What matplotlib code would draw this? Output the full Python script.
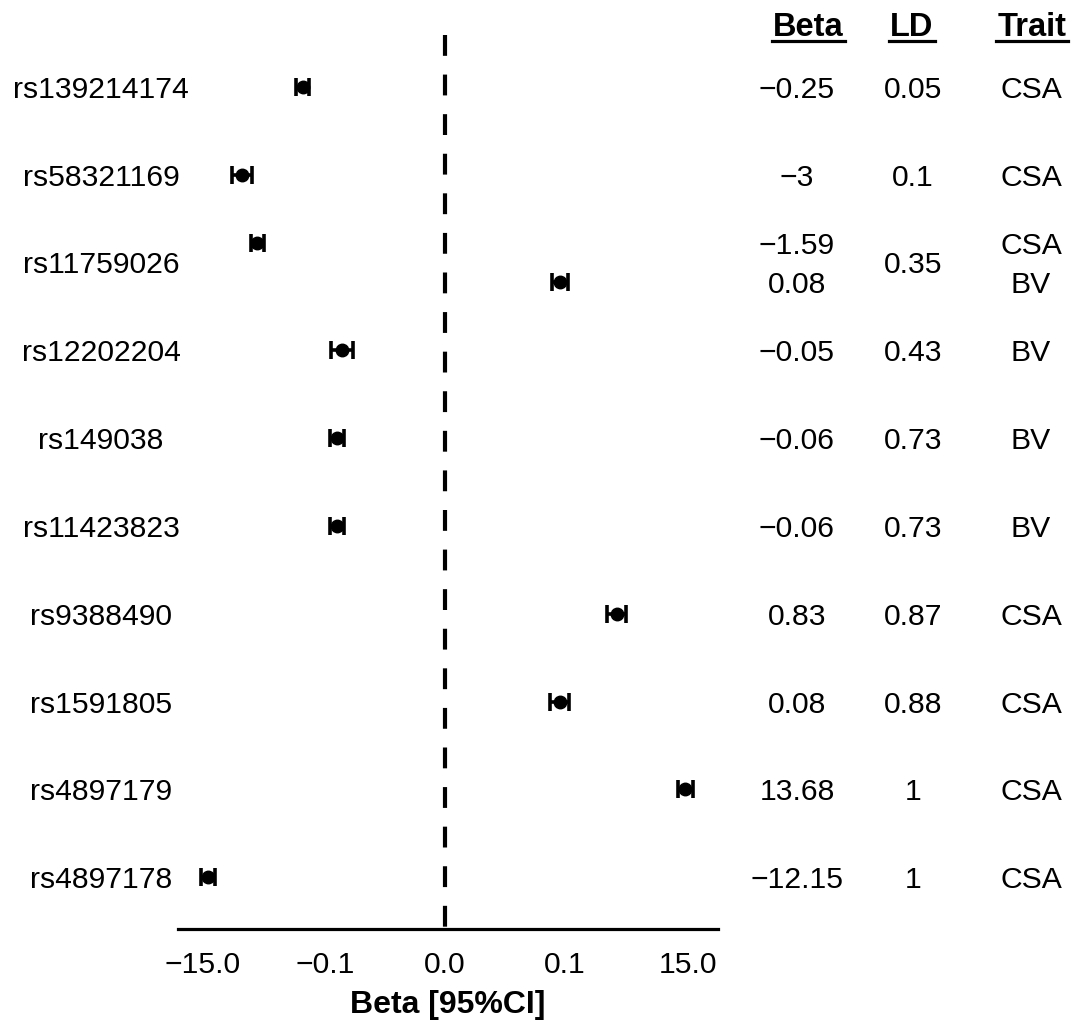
import numpy as np
import matplotlib
matplotlib.use("Agg")
import matplotlib.pyplot as plt
from matplotlib.transforms import blended_transform_factory
from matplotlib.lines import Line2D

plt.rcParams['font.family'] = ['Liberation Sans', 'DejaVu Sans']

# ---- data ----
snps = ["rs139214174", "rs58321169", "rs11759026", "rs12202204", "rs149038",
        "rs11423823", "rs9388490", "rs1591805", "rs4897179", "rs4897178"]
ld = ["0.05", "0.1", "0.35", "0.43", "0.73", "0.73", "0.87", "0.88", "1", "1"]
entry_snp = [0, 1, 2, 2, 3, 4, 5, 6, 7, 8, 9]
beta = [-0.25, -3, -1.59, 0.08, -0.05, -0.06, -0.06, 0.83, 0.08, 13.68, -12.15]
ci_lo = [-0.33, -4.4, -2.07, 0.058, -0.078, -0.08, -0.08, 0.56, 0.053, 10.0, -16.2]
ci_hi = [-0.19, -2.0, -1.22, 0.111, -0.032, -0.045, -0.045, 1.22, 0.12, 18.6, -9.1]
trait = ["CSA", "CSA", "CSA", "BV", "BV", "BV", "BV", "CSA", "CSA", "CSA", "CSA"]
xticks = [-15.0, -0.1, 0.0, 0.1, 15.0]
xticklabels = ["\u221215.0", "\u22120.1", "0.0", "0.1", "15.0"]

# ---- scale ----
C = 0.00075
def fwd(x):
    x = np.asarray(x, dtype=float)
    return np.sign(x) * np.log10(1 + np.abs(x) / C)
def inv(y):
    y = np.asarray(y, dtype=float)
    return np.sign(y) * C * (10 ** np.abs(y) - 1)

W, H = 1075, 1025
fig = plt.figure(figsize=(W / 100, H / 100), dpi=100)
ax_left, ax_right, ax_top, ax_bot = 178, 718, 35, 929
ax = fig.add_axes([ax_left / W, 1 - ax_bot / H, (ax_right - ax_left) / W, (ax_bot - ax_top) / H])
ax.set_xscale('function', functions=(fwd, inv))

# y positions
counts = {}
for s in entry_snp:
    counts[s] = counts.get(s, 0) + 1
seen = {}
ypos = []
for s in entry_snp:
    k = seen.get(s, 0)
    seen[s] = k + 1
    n = counts[s]
    off = 0.0 if n == 1 else (-0.22 + 0.44 * k / (n - 1))
    ypos.append(s + off)

beta_a = np.array(beta)
xerr = [beta_a - np.array(ci_lo), np.array(ci_hi) - beta_a]
ax.errorbar(beta_a, ypos, xerr=xerr, fmt='o', color='black', ms=9,
            elinewidth=2.6, capsize=6.5, capthick=2.6, zorder=3)

ylim = (len(snps) - 1 + 0.59, -0.59)
ax.set_ylim(*ylim)
ax.set_xlim(inv(-4.734), inv(4.84))
ax.plot([0, 0], [ylim[1], ylim[0]], color='black', lw=3, dashes=(5, 4.5),
        solid_capstyle='butt', dash_capstyle='butt', clip_on=False)

for sp in ['top', 'right', 'left']:
    ax.spines[sp].set_visible(False)
ax.spines['bottom'].set_linewidth(2.3)
ax.set_yticks([])
ax.set_xticks(xticks)
ax.set_xticklabels(xticklabels, fontsize=21.7)
ax.tick_params(axis='x', length=0, pad=15.5)
ax.set_xlabel("Beta [95%CI]", fontsize=23, fontweight='bold', labelpad=8)

# ---- side labels and table ----
tr = blended_transform_factory(fig.transFigure, ax.transData)
kw = dict(transform=tr, ha='center', va='center_baseline', fontsize=21.7)
for i, s in enumerate(snps):
    fig.text(101 / W, i, s, **kw)
    fig.text(913 / W, i, ld[i], **kw)
for b, y, t in zip(beta, ypos, trait):
    lab = f"{b:g}".replace("-", "\u2212")
    fig.text(797 / W, y, lab, **kw)
    fig.text(1031 / W, y, t, **kw)

headers = [("Beta", 808, 772, 845), ("LD", 912, 889, 935), ("Trait", 1032, 996, 1068)]
for txt, cx, x0, x1 in headers:
    fig.text(cx / W, 1 - 36 / H, txt, ha='center', va='baseline', fontsize=23.5, fontweight='bold')
    fig.add_artist(Line2D([x0 / W, x1 / W], [1 - 41 / H, 1 - 41 / H], color='black', lw=2.3,
                          transform=fig.transFigure))

fig.savefig("out.png", dpi=100, facecolor='white')
